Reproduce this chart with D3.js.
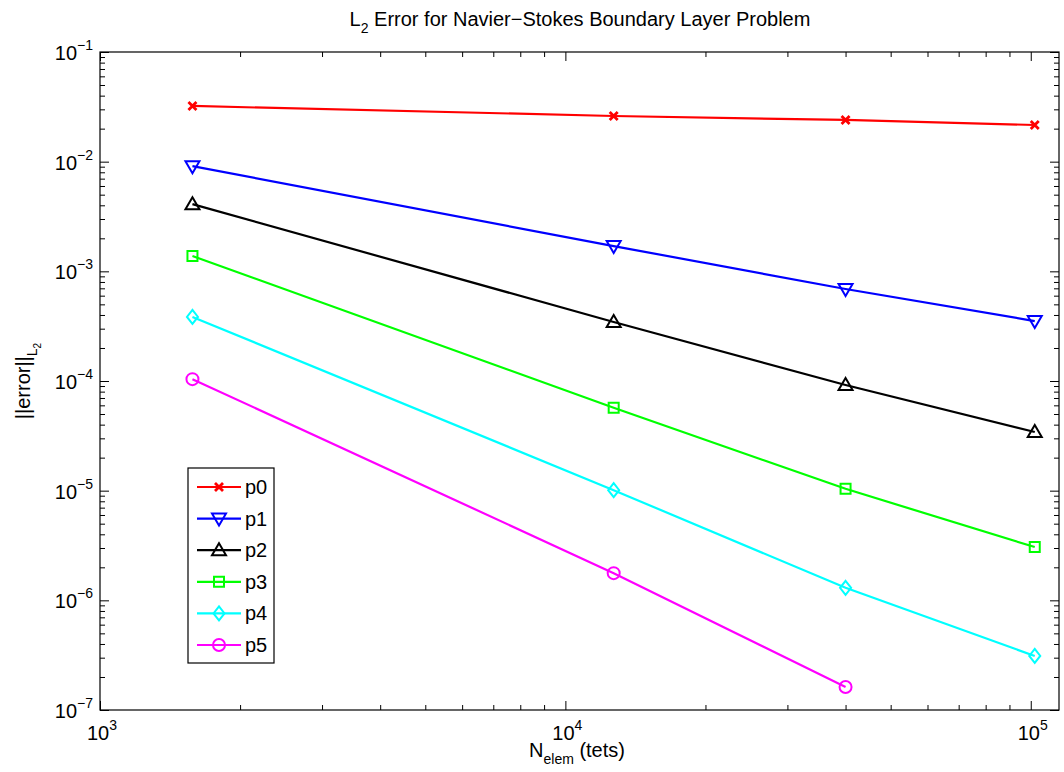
<!DOCTYPE html>
<html>
<head>
<meta charset="utf-8">
<script src="https://cdn.jsdelivr.net/npm/d3@7"></script>
<style>
    body { margin: 0; background: #fff; }
    text { font-family: "Liberation Sans", Arial, sans-serif; fill: #000; }
</style>
</head>
<body>
<svg id="chart" width="1064" height="772"></svg>
<script>

//  data
const nElem = [1580, 12700, 40000, 102000];
const seriesNames = ["p0", "p1", "p2", "p3", "p4", "p5"];
const errP0 = [0.0322, 0.0261, 0.0240, 0.0216];
const errP1 = [9.1e-3, 1.70e-3, 6.9e-4, 3.52e-4];
const errP2 = [4.1e-3, 3.45e-4, 9.2e-5, 3.43e-5];
const errP3 = [1.38e-3, 5.7e-5, 1.04e-5, 3.06e-6];
const errP4 = [3.84e-4, 1.01e-5, 1.30e-6, 3.11e-7];
const errP5 = [1.04e-4, 1.77e-6, 1.62e-7];
const seriesColors = ["#ff0000", "#0000ff", "#000000", "#00ff00", "#00ffff", "#ff00ff"];
const seriesMarkers = ["x", "v", "^", "s", "d", "o"];
const xDecades = [3, 4, 5];
const yDecades = [-7, -6, -5, -4, -3, -2, -1];

const allErrors = [errP0, errP1, errP2, errP3, errP4, errP5];

const plot = {left: 100, right: 1059, top: 52, bottom: 710};

const svg = d3.select("#chart");

const x = d3.scaleLog().domain([1e3, 1.15e5]).range([plot.left, plot.right]);
const y = d3.scaleLog().domain([1e-7, 1e-1]).range([plot.bottom, plot.top]);

//  minor ticks: 2..9 of every decade inside the domain
function minorTicks(decades, scale) {
    const out = [];
    const [lo, hi] = scale.domain();
    decades.forEach(k => {
        for (let m = 2; m <= 9; m++) {
            const v = m * Math.pow(10, k);
            if (v > lo && v < hi) out.push(v);
        }
    });
    return out;
}

const xMajor = xDecades.map(k => Math.pow(10, k));
const yMajor = yDecades.map(k => Math.pow(10, k));
const xMinor = minorTicks(xDecades, x);
const yMinor = minorTicks([-7, -6, -5, -4, -3, -2], y);

function tickAxis(axisFn, scale, values, size, transform) {
    const g = svg.append("g")
        .attr("transform", transform)
        .call(axisFn(scale).tickValues(values).tickSize(-size).tickFormat(""));
    g.select(".domain").remove();
    g.selectAll(".tick line").attr("stroke", "#000").attr("stroke-width", 1);
    return g;
}

tickAxis(d3.axisBottom, x, xMajor, 9, `translate(0,${plot.bottom})`);
tickAxis(d3.axisBottom, x, xMinor, 5, `translate(0,${plot.bottom})`);
tickAxis(d3.axisTop, x, xMajor, 9, `translate(0,${plot.top})`);
tickAxis(d3.axisTop, x, xMinor, 5, `translate(0,${plot.top})`);
tickAxis(d3.axisLeft, y, yMajor, 9, `translate(${plot.left},0)`);
tickAxis(d3.axisLeft, y, yMinor, 5, `translate(${plot.left},0)`);
tickAxis(d3.axisRight, y, yMajor, 9, `translate(${plot.right},0)`);
tickAxis(d3.axisRight, y, yMinor, 5, `translate(${plot.right},0)`);

svg.append("rect")
    .attr("x", plot.left).attr("y", plot.top)
    .attr("width", plot.right - plot.left).attr("height", plot.bottom - plot.top)
    .attr("fill", "none").attr("stroke", "#000").attr("stroke-width", 1.2);

//  "10^k" tick labels
function powerLabel(sel, k) {
    sel.append("tspan").text("10");
    sel.append("tspan").attr("dy", -10).attr("font-size", 14)
        .text(k < 0 ? "\u2212" + (-k) : String(k));
}

xDecades.forEach(k => {
    const t = svg.append("text")
        .attr("x", x(Math.pow(10, k)) + 2).attr("y", plot.bottom + 30)
        .attr("text-anchor", "middle").attr("font-size", 20);
    powerLabel(t, k);
});

yDecades.forEach(k => {
    const t = svg.append("text")
        .attr("x", plot.left - 7).attr("y", y(Math.pow(10, k)) + 8)
        .attr("text-anchor", "end").attr("font-size", 20);
    powerLabel(t, k);
});

//  markers, matlab style
function markerPath(type) {
    const p = d3.path();
    switch (type) {
        case "x":
            p.moveTo(-4, -4); p.lineTo(4, 4);
            p.moveTo(-4, 4); p.lineTo(4, -4);
            break;
        case "v":
            p.moveTo(-7, -5); p.lineTo(7, -5); p.lineTo(0, 7); p.closePath();
            break;
        case "^":
            p.moveTo(-7, 5); p.lineTo(7, 5); p.lineTo(0, -7); p.closePath();
            break;
        case "s":
            p.rect(-5, -5, 10, 10);
            break;
        case "d":
            p.moveTo(0, -7); p.lineTo(5.5, 0); p.lineTo(0, 7); p.lineTo(-5.5, 0); p.closePath();
            break;
        case "o":
            p.moveTo(6, 0); p.arc(0, 0, 6, 0, 2 * Math.PI);
            break;
    }
    return p.toString();
}

const line = d3.line()
    .x(d => x(d[0]))
    .y(d => y(d[1]));

allErrors.forEach((errs, i) => {
    const pts = errs.map((e, j) => [nElem[j], e]);
    const g = svg.append("g");
    g.append("path")
        .attr("d", line(pts))
        .attr("fill", "none")
        .attr("stroke", seriesColors[i])
        .attr("stroke-width", 2.2);
    g.selectAll("path.mk")
        .data(pts)
        .join("path")
        .attr("class", "mk")
        .attr("transform", d => `translate(${x(d[0])},${y(d[1])})`)
        .attr("d", markerPath(seriesMarkers[i]))
        .attr("fill", "none")
        .attr("stroke", seriesColors[i])
        .attr("stroke-width", seriesMarkers[i] === "x" ? 2.8 : 2);
});

//  legend
const legend = svg.append("g").attr("transform", "translate(188,468)");
legend.append("rect")
    .attr("width", 86).attr("height", 195)
    .attr("fill", "#fff").attr("stroke", "#000").attr("stroke-width", 1.2);

seriesNames.forEach((name, i) => {
    const ly = 19 + i * 31.6;
    legend.append("line")
        .attr("x1", 9).attr("x2", 53).attr("y1", ly).attr("y2", ly)
        .attr("stroke", seriesColors[i]).attr("stroke-width", 2.2);
    legend.append("path")
        .attr("transform", `translate(31,${ly})`)
        .attr("d", markerPath(seriesMarkers[i]))
        .attr("fill", "none")
        .attr("stroke", seriesColors[i])
        .attr("stroke-width", seriesMarkers[i] === "x" ? 2.8 : 2);
    legend.append("text")
        .attr("x", 57).attr("y", ly + 7)
        .attr("font-size", 20)
        .text(name);
});

//  title and axis labels
const title = svg.append("text")
    .attr("x", 580).attr("y", 26)
    .attr("text-anchor", "middle").attr("font-size", 20);
title.append("tspan").text("L");
title.append("tspan").attr("dy", 7).attr("font-size", 14).text("2");
title.append("tspan").attr("dy", -7).text(" Error for Navier\u2212Stokes Boundary Layer Problem");

const xLabel = svg.append("text")
    .attr("x", 577).attr("y", 757)
    .attr("text-anchor", "middle").attr("font-size", 20);
xLabel.append("tspan").text("N");
xLabel.append("tspan").attr("dy", 7).attr("font-size", 14).text("elem");
xLabel.append("tspan").attr("dy", -7).text(" (tets)");

const yLabel = svg.append("text")
    .attr("transform", `translate(30,${(plot.top + plot.bottom) / 2}) rotate(-90)`)
    .attr("text-anchor", "middle").attr("font-size", 20);
yLabel.append("tspan").text("||error||");
yLabel.append("tspan").attr("dy", 7).attr("font-size", 14).text("L");
yLabel.append("tspan").attr("dy", 4).attr("font-size", 10).text("2");

</script>
</body>
</html>
